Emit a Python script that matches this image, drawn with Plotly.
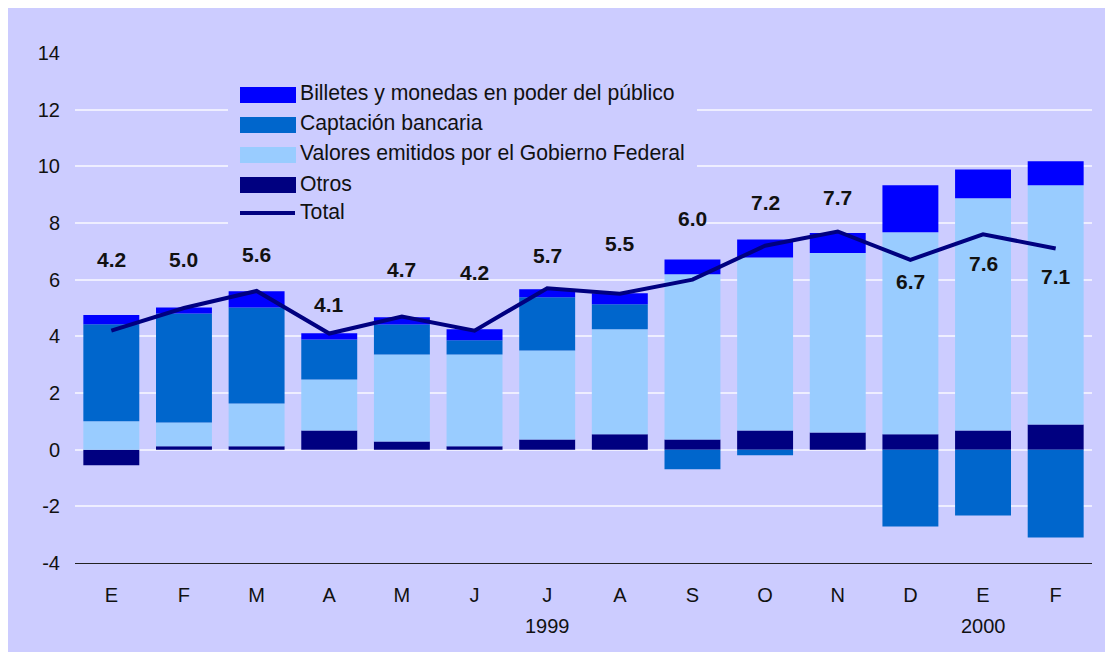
import plotly.graph_objects as go

months = ["E", "F", "M", "A", "M", "J", "J", "A", "S", "O", "N", "D", "E", "F"]
years = {6: "1999", 12: "2000"}
y_ticks = [-4, -2, 0, 2, 4, 6, 8, 10, 12, 14]
y_ticktext = ["-4", "-2", "0", "2", "4", "6", "8", "10", "12", "14"]

otros = [-0.55, 0.12, 0.12, 0.68, 0.29, 0.12, 0.36, 0.54, 0.36, 0.68, 0.61, 0.54, 0.68, 0.89]
valores = [1.00, 0.84, 1.51, 1.80, 3.07, 3.24, 3.14, 3.71, 5.83, 6.10, 6.33, 7.13, 8.19, 8.44]
captacion = [3.43, 3.85, 3.39, 1.41, 1.06, 0.50, 1.88, 0.88, -0.69, -0.20, 0.00, -2.71, -2.32, -3.10]
billetes = [0.32, 0.21, 0.57, 0.22, 0.25, 0.39, 0.28, 0.39, 0.52, 0.64, 0.71, 1.66, 1.02, 0.85]
total = [4.2, 5.0, 5.6, 4.1, 4.7, 4.2, 5.7, 5.5, 6.0, 7.2, 7.7, 6.7, 7.6, 7.1]
label_y = [6.72, 6.72, 6.89, 5.13, 6.36, 6.26, 6.86, 7.28, 8.16, 8.73, 8.91, 5.94, 6.58, 6.12]

FONT = "Liberation Sans, Arial, sans-serif"
BG = "#CCCCFF"
C_BILL = "#0000FF"
C_CAPT = "#0066CC"
C_VAL = "#99CCFF"
C_OTR = "#000080"
TXT = "#111111"

x = list(range(len(months)))

fig = go.Figure()
for name, vals, col in [
    ("Otros", otros, C_OTR),
    ("Valores emitidos por el Gobierno Federal", valores, C_VAL),
    ("Captación bancaria", captacion, C_CAPT),
    ("Billetes y monedas en poder del público", billetes, C_BILL),
]:
    fig.add_trace(go.Bar(x=x, y=vals, name=name, marker=dict(color=col, line=dict(width=0)),
                         showlegend=False))

fig.add_trace(go.Scatter(x=x, y=total, mode="lines", name="Total",
                         line=dict(color=C_OTR, width=4), showlegend=False))

# page offset (browser body margin) and plot-area geometry, in screenshot pixels
OFF = 8
W, H = 1113, 652
IMG_L, IMG_R, IMG_T, IMG_B = 75, 1092, 53, 563
L, T = IMG_L - OFF, IMG_T - OFF
R, B = W - (IMG_R - OFF), H - (IMG_B - OFF)
PW, PH = IMG_R - IMG_L, IMG_B - IMG_T


def px(v):
    return (v - IMG_L) / PW


def py(v):
    return (IMG_B - v) / PH


shapes = [
    dict(type="rect", xref="paper", yref="paper", x0=px(228), x1=px(697), y0=py(228), y1=py(72),
         fillcolor=BG, line=dict(width=0), layer="above"),
]
annotations = []

for xi, yi, v in zip(x, label_y, total):
    annotations.append(dict(text=f"<b>{v:.1f}</b>", xref="x", yref="y", x=xi, y=yi,
                            xanchor="center", yanchor="middle", showarrow=False,
                            font=dict(family=FONT, size=21, color=TXT)))

legend_items = [
    ("Billetes y monedas en poder del público", C_BILL, "bar"),
    ("Captación bancaria", C_CAPT, "bar"),
    ("Valores emitidos por el Gobierno Federal", C_VAL, "bar"),
    ("Otros", C_OTR, "bar"),
    ("Total", C_OTR, "line"),
]
for i, (name, col, kind) in enumerate(legend_items):
    cy = 95 + 30 * i - (2 if kind == "line" else 0)
    if kind == "bar":
        shapes.append(dict(type="rect", xref="paper", yref="paper", x0=px(240), x1=px(296),
                           y0=py(cy + 8), y1=py(cy - 8), fillcolor=col, line=dict(width=0),
                           layer="above"))
    else:
        shapes.append(dict(type="line", xref="paper", yref="paper", x0=px(240), x1=px(295),
                           y0=py(cy), y1=py(cy), line=dict(color=col, width=4), layer="above"))
    annotations.append(dict(text=name, xref="paper", yref="paper", x=px(298), y=py(cy - 2),
                            xanchor="left", yanchor="middle", showarrow=False,
                            font=dict(family=FONT, size=21.2, color=TXT)))

for idx, yr in years.items():
    annotations.append(dict(text=yr, xref="x", yref="paper", x=idx, y=py(626),
                            xanchor="center", yanchor="middle", showarrow=False,
                            font=dict(family=FONT, size=20, color=TXT)))

fig.update_layout(
    width=W, height=H,
    margin=dict(l=L, r=R, t=T, b=B, pad=0),
    paper_bgcolor=BG, plot_bgcolor=BG,
    barmode="relative", bargap=0.23,
    font=dict(family=FONT, size=20, color=TXT),
    shapes=shapes, annotations=annotations,
    xaxis=dict(range=[-0.5, 13.5], tickmode="array", tickvals=x, ticktext=months,
               showgrid=False, zeroline=False, showline=True, linecolor="#222222",
               linewidth=1.2, ticks="", ticklabelstandoff=14,
               tickfont=dict(family=FONT, size=20, color=TXT)),
    yaxis=dict(range=[-4, 14], tickmode="array", tickvals=y_ticks, ticktext=y_ticktext,
               showgrid=True, gridcolor="#EEEEFF", gridwidth=1.5, zeroline=False,
               showline=False, ticks="", ticklabelstandoff=14,
               tickfont=dict(family=FONT, size=20, color=TXT)),
)

fig.write_html("out.html")
